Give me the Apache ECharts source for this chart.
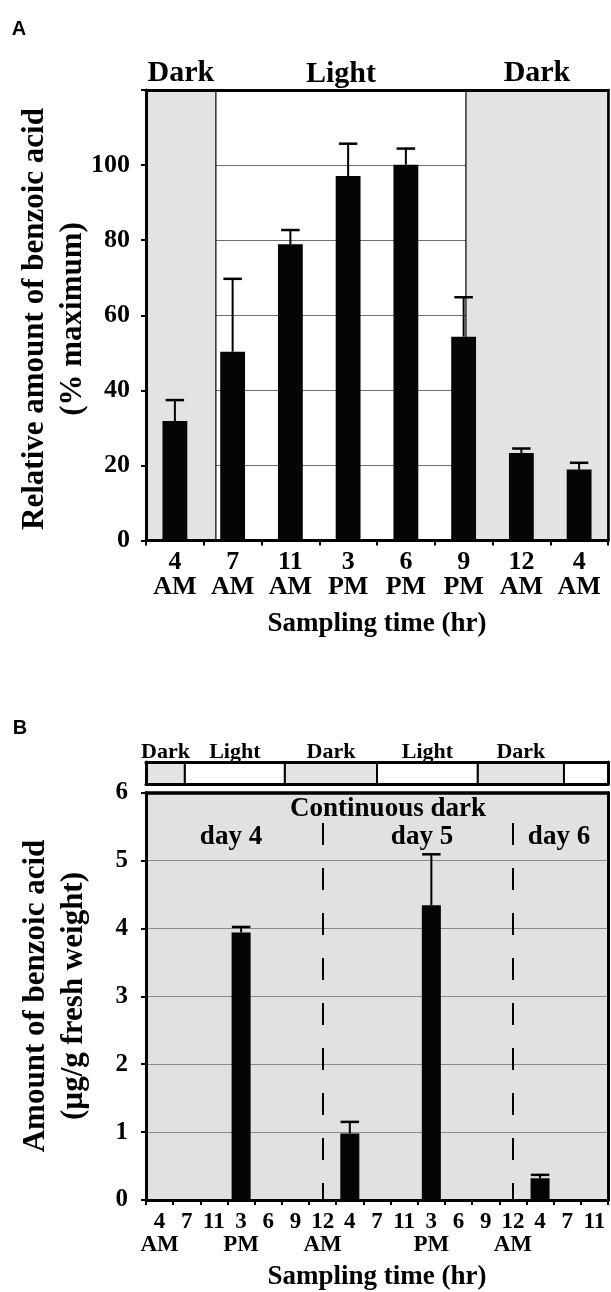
<!DOCTYPE html>
<html>
<head>
<meta charset="utf-8">
<script src="https://cdn.jsdelivr.net/npm/echarts@6/dist/echarts.min.js"></script>
<style>
html,body{margin:0;padding:0;background:#fff;}
#chart{width:611px;height:1292px;}
</style>
</head>
<body>
<div id="chart"></div>
<script>
// ---------- Panel A data ----------
const aCategories = ['4\nAM','7\nAM','11\nAM','3\nPM','6\nPM','9\nPM','12\nAM','4\nAM'];
const aValues = [31.8, 50.3, 78.9, 97.1, 100.1, 54.3, 23.3, 18.9];
const aErrTop = [37.4, 69.7, 82.7, 105.7, 104.4, 64.8, 24.5, 20.7];
const aPeriods = ['Dark', 'Light', 'Dark'];
const aPeriodEdges = [0, 1.21, 5.54, 8];          // in sampling-slot units
const aYTicks = [0, 20, 40, 60, 80, 100];

// ---------- Panel B data ----------
const bCategories = ['4\nAM','7','11','3\nPM','6','9','12\nAM','4','7','11','3\nPM','6','9','12\nAM','4','7','11'];
const bValues = [0, 0, 0, 3.94, 0, 0, 0, 0.98, 0, 0, 4.34, 0, 0, 0, 0.32, 0, 0];
const bErrTop = [null, null, null, 4.02, null, null, null, 1.15, null, null, 5.09, null, null, null, 0.37, null, null];
const bPeriods = ['Dark', 'Light', 'Dark', 'Light', 'Dark', 'Light'];
const bPeriodLabels = ['Dark', 'Light', 'Dark', 'Light', 'Dark', ''];
const bPeriodEdges = [0, 1.43, 5.11, 8.5, 12.21, 15.38, 17];   // in sampling-slot units
const bDayBoundaries = [6, 13];                                  // category index of 12 AM
const bDashTop = 5.55;
const bDayLabels = ['day 4', 'day 5', 'day 6'];
const bHeader = 'Continuous dark';

// ---------- styles ----------
const serif = '"Liberation Serif", "Times New Roman", serif';
const GRAY = '#e3e3e3';
const BG_B = '#e1e1e1';

function errorSeries(xi, yi, values, tops, capFrac) {
  const data = [];
  values.forEach((v, i) => { if (tops[i] != null) data.push([i, v, tops[i]]); });
  return {
    type: 'custom', xAxisIndex: xi, yAxisIndex: yi, z: 6, silent: true,
    encode: { x: 0, y: [1, 2] },
    data: data,
    renderItem: function (params, api) {
      const x = api.value(0);
      const base = api.coord([x, api.value(1)]);
      const top = api.coord([x, api.value(2)]);
      const half = api.size([1, 0])[0] * capFrac;
      return {
        type: 'group',
        children: [
          { type: 'line', shape: { x1: base[0], y1: base[1], x2: top[0], y2: top[1] }, style: { stroke: '#000', lineWidth: 2 } },
          { type: 'line', shape: { x1: top[0] - half, y1: top[1], x2: top[0] + half, y2: top[1] }, style: { stroke: '#000', lineWidth: 2.5 } }
        ]
      };
    }
  };
}

function periodAreas(names, labels, edges, opts) {
  return names.map((n, i) => {
    const dark = n === 'Dark';
    return [
      {
        xAxis: edges[i],
        name: labels[i],
        itemStyle: {
          color: dark ? GRAY : opts.lightColor,
          borderColor: '#000',
          borderWidth: dark || opts.borderLight ? opts.border : 0
        },
        label: {
          show: labels[i] !== '', position: 'top', distance: opts.labelDist,
          formatter: '{b}', color: '#000', fontFamily: serif, fontWeight: 'bold', fontSize: opts.fontSize
        }
      },
      { xAxis: edges[i + 1] }
    ];
  });
}

const frameLine = (w) => ({ show: true, onZero: false, lineStyle: { color: '#000', width: w } });
const noLabel = { show: false };
const noTick = { show: false };
const noSplit = { show: false };

const chart = echarts.init(document.getElementById('chart'), null, { renderer: 'canvas' });

const option = {
  animation: false,
  backgroundColor: '#fff',
  grid: [
    { left: 146, right: 3, top: 90, height: 450.5 },
    { left: 146, right: 3, top: 762, height: 22 },
    { left: 146, right: 3, top: 792.5, height: 416.5, show: true, backgroundColor: BG_B, borderWidth: 0 }
  ],
  xAxis: [
    { // A categories
      gridIndex: 0, type: 'category', data: aCategories, position: 'bottom', z: 10,
      axisLine: frameLine(3),
      axisTick: { show: true, length: 5, lineStyle: { color: '#000', width: 2 } },
      axisLabel: { interval: 0, margin: 9, color: '#000', fontFamily: serif, fontWeight: 'bold', fontSize: 26, lineHeight: 25 },
      name: 'Sampling time (hr)', nameLocation: 'middle', nameGap: 70,
      nameTextStyle: { color: '#000', fontFamily: serif, fontWeight: 'bold', fontSize: 27 }
    },
    { // A hidden slot axis (top frame)
      gridIndex: 0, type: 'value', min: 0, max: 8, position: 'top', z: 10,
      axisLine: frameLine(3), axisTick: noTick, axisLabel: noLabel, splitLine: noSplit
    },
    { // B strip bottom
      gridIndex: 1, type: 'value', min: 0, max: 17, position: 'bottom', z: 10,
      axisLine: frameLine(3), axisTick: noTick, axisLabel: noLabel, splitLine: noSplit
    },
    { // B strip top
      gridIndex: 1, type: 'value', min: 0, max: 17, position: 'top', z: 10,
      axisLine: frameLine(3), axisTick: noTick, axisLabel: noLabel, splitLine: noSplit
    },
    { // B categories
      gridIndex: 2, type: 'category', data: bCategories, position: 'bottom', z: 10,
      axisLine: frameLine(3),
      axisTick: { show: true, length: 5, lineStyle: { color: '#000', width: 2 } },
      axisLabel: { interval: 0, margin: 11, color: '#000', fontFamily: serif, fontWeight: 'bold', fontSize: 23, lineHeight: 23 },
      name: 'Sampling time (hr)', nameLocation: 'middle', nameGap: 64,
      nameTextStyle: { color: '#000', fontFamily: serif, fontWeight: 'bold', fontSize: 27 }
    },
    { // B top frame
      gridIndex: 2, type: 'value', min: 0, max: 17, position: 'top', z: 10,
      axisLine: frameLine(3.5), axisTick: noTick, axisLabel: noLabel, splitLine: noSplit
    }
  ],
  yAxis: [
    { // 0: A gridlines only
      gridIndex: 0, type: 'value', min: 0, max: 120, interval: 20, z: 0,
      axisLine: { show: false }, axisTick: noTick, axisLabel: noLabel,
      splitLine: { show: true, lineStyle: { color: '#6f6f6f', width: 1 } }
    },
    { // 1: A labelled left axis
      gridIndex: 0, type: 'value', min: 0, max: 120, interval: 20, position: 'left', z: 10,
      axisLine: frameLine(3),
      axisTick: { show: true, length: 5, lineStyle: { color: '#000', width: 2 } },
      axisLabel: {
        margin: 16, color: '#000', fontFamily: serif, fontWeight: 'bold', fontSize: 26,
        formatter: v => aYTicks.indexOf(v) >= 0 ? String(v) : ''
      },
      splitLine: noSplit
    },
    { // 2: A right frame
      gridIndex: 0, type: 'value', min: 0, max: 120, position: 'right', z: 10,
      axisLine: frameLine(2.5), axisTick: noTick, axisLabel: noLabel, splitLine: noSplit
    },
    { // 3: strip left
      gridIndex: 1, type: 'value', min: 0, max: 1, position: 'left', z: 10,
      axisLine: frameLine(3), axisTick: noTick, axisLabel: noLabel, splitLine: noSplit
    },
    { // 4: strip right
      gridIndex: 1, type: 'value', min: 0, max: 1, position: 'right', z: 10,
      axisLine: frameLine(3), axisTick: noTick, axisLabel: noLabel, splitLine: noSplit
    },
    { // 5: B left
      gridIndex: 2, type: 'value', min: 0, max: 6, interval: 1, position: 'left', z: 1,
      axisLine: frameLine(3),
      axisTick: { show: true, length: 5, lineStyle: { color: '#000', width: 2 } },
      axisLabel: { margin: 18, color: '#000', fontFamily: serif, fontWeight: 'bold', fontSize: 25 },
      splitLine: { show: true, lineStyle: { color: '#8a8a8a', width: 1 } }
    },
    { // 6: B right frame
      gridIndex: 2, type: 'value', min: 0, max: 6, position: 'right', z: 10,
      axisLine: frameLine(3), axisTick: noTick, axisLabel: noLabel, splitLine: noSplit
    }
  ],
  series: [
    { // A photoperiod shading
      type: 'line', xAxisIndex: 1, yAxisIndex: 0, z: 1, silent: true,
      data: [[0, 0], [8, 0]], showSymbol: false, lineStyle: { width: 0 },
      markArea: { silent: true, data: periodAreas(aPeriods, aPeriods, aPeriodEdges, { lightColor: 'rgba(0,0,0,0)', border: 1.2, borderLight: false, fontSize: 30, labelDist: 1 }) }
    },
    { // A bars
      type: 'bar', xAxisIndex: 0, yAxisIndex: 1, z: 4, data: aValues, barWidth: '43%',
      itemStyle: { color: '#050505' }
    },
    errorSeries(0, 1, aValues, aErrTop, 0.16),
    { // B light/dark strip
      type: 'line', xAxisIndex: 2, yAxisIndex: 3, z: 1, silent: true,
      data: [[0, 0], [17, 0]], showSymbol: false, lineStyle: { width: 0 },
      markArea: { silent: true, data: periodAreas(bPeriods, bPeriodLabels, bPeriodEdges, { lightColor: '#fff', border: 2, borderLight: true, fontSize: 22, labelDist: -2 }) }
    },
    { // B bars
      type: 'bar', xAxisIndex: 4, yAxisIndex: 5, z: 4, data: bValues, barWidth: '70%',
      itemStyle: { color: '#050505' },
      markLine: {
        silent: true, symbol: ['none', 'none'], label: { show: false },
        lineStyle: { color: '#000', width: 2, type: [22, 23] },
        data: bDayBoundaries.map(i => [{ coord: [i, bDashTop] }, { coord: [i, 0] }])
      }
    },
    errorSeries(4, 5, bValues, bErrTop, 0.34)
  ],
  graphic: [
    { type: 'text', x: 19, y: 29, style: { text: 'A', font: 'bold 20px "Liberation Sans", Arial, sans-serif', fill: '#000', align: 'center', verticalAlign: 'middle' } },
    { type: 'text', x: 20, y: 728, style: { text: 'B', font: 'bold 20px "Liberation Sans", Arial, sans-serif', fill: '#000', align: 'center', verticalAlign: 'middle' } },
    { type: 'text', x: 54, y: 319, rotation: Math.PI / 2, style: { text: 'Relative amount of benzoic acid\n(% maximum)', font: 'bold 31px ' + serif, lineHeight: 38, fill: '#000', align: 'center', verticalAlign: 'middle' } },
    { type: 'text', x: 55, y: 996, rotation: Math.PI / 2, style: { text: 'Amount of benzoic acid\n(µg/g fresh weight)', font: 'bold 31px ' + serif, lineHeight: 38, fill: '#000', align: 'center', verticalAlign: 'middle' } },
    { type: 'text', x: 388, y: 809, z: 20, style: { text: bHeader, font: 'bold 27px ' + serif, fill: '#000', align: 'center', verticalAlign: 'middle' } },
    { type: 'text', x: 231, y: 837, z: 20, style: { text: bDayLabels[0], font: 'bold 27px ' + serif, fill: '#000', align: 'center', verticalAlign: 'middle' } },
    { type: 'text', x: 422, y: 837, z: 20, style: { text: bDayLabels[1], font: 'bold 27px ' + serif, fill: '#000', align: 'center', verticalAlign: 'middle' } },
    { type: 'text', x: 559, y: 837, z: 20, style: { text: bDayLabels[2], font: 'bold 27px ' + serif, fill: '#000', align: 'center', verticalAlign: 'middle' } }
  ]
};

chart.setOption(option);
</script>
</body>
</html>
